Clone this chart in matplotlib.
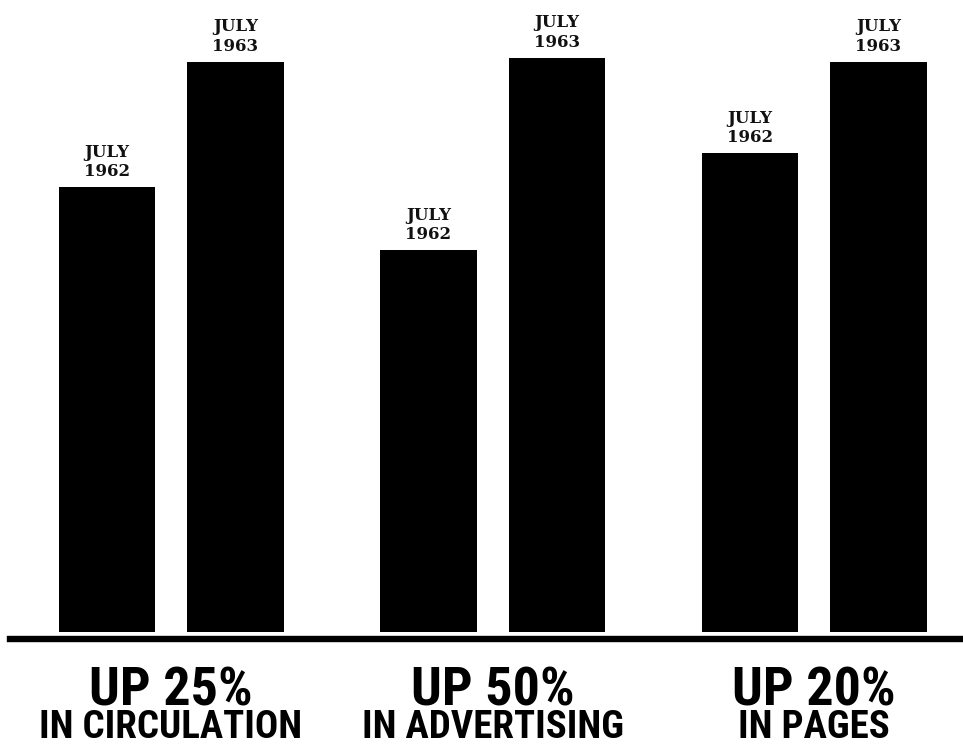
# July 1962 vs July 1963 comparison bars
import numpy as np
import matplotlib
matplotlib.use('Agg')
import matplotlib.pyplot as plt
from matplotlib import font_manager

groups = ['CIRCULATION', 'ADVERTISING', 'PAGES']
headlines = ['UP 25%', 'UP 50%', 'UP 20%']
sublines = ['IN CIRCULATION', 'IN ADVERTISING', 'IN PAGES']
years = ['JULY\n1962', 'JULY\n1963']
# index, July 1963 circulation = 100
july_1962 = [78, 67, 84]
july_1963 = [100, 100.7, 100]

# pick a narrow bold face for the big captions
names = {f.name for f in font_manager.fontManager.ttflist}
narrow = next((n for n in ['Liberation Sans Narrow', 'Roboto Condensed',
                           'Open Sans Condensed', 'DejaVu Sans']
               if n in names), 'DejaVu Sans')

fig = plt.figure(figsize=(9.63, 7.45), dpi=100)
ax = fig.add_axes([0, 0, 1, 1])

x = np.arange(len(groups))
offset = 0.2
width = 0.3

bars_62 = ax.bar(x - offset, july_1962, width, color='black')
bars_63 = ax.bar(x + offset, july_1963, width, color='black')

for bars, lab in [(bars_62, years[0]), (bars_63, years[1])]:
    for b in bars:
        ax.annotate(lab, (b.get_x() + b.get_width() / 2, b.get_height()),
                    xytext=(0, 5), textcoords='offset points',
                    ha='center', va='bottom', fontsize=12,
                    family='DejaVu Serif', fontweight='bold',
                    linespacing=1.2, color='#111111')

# base line
ax.axhline(-1.2, xmin=0.01, xmax=1, color='black', lw=4.6)

for xi, h, s in zip(x, headlines, sublines):
    ax.text(xi, -12.9, h, ha='center', va='baseline', fontsize=39,
            family=narrow, fontstretch='condensed', fontweight='bold')
    ax.text(xi, -18.6, s, ha='center', va='baseline', fontsize=28,
            family=narrow, fontstretch='condensed', fontweight='bold')

ax.set_xlim(-0.532, 2.463)
ax.set_ylim(-19.82, 110.88)
ax.axis('off')

fig.savefig('out.png', dpi=100, facecolor='white')
